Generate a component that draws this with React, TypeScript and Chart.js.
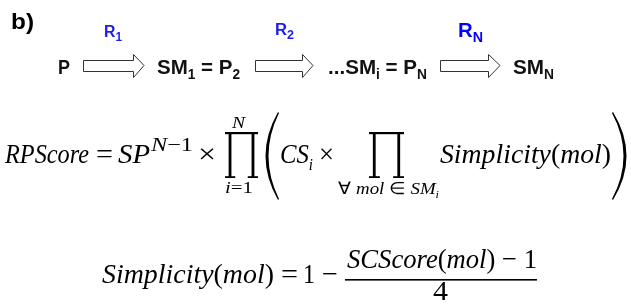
import React, { useEffect, useRef } from "react";
import { Chart, registerables } from "chart.js";

Chart.register(...registerables);

// ---- content (text) ----
type Seg = { t: string; it?: boolean; sub?: boolean; sup?: boolean; s?: number };

const PANEL_LABEL = "b)";
const STEP_NODES: Seg[][] = [
  [{ t: "P" }],
  [{ t: "SM" }, { t: "1", sub: true }, { t: " = P" }, { t: "2", sub: true }],
  [{ t: "...SM" }, { t: "i", sub: true }, { t: " = P" }, { t: "N", sub: true }],
  [{ t: "SM" }, { t: "N", sub: true }],
];
const REACTIONS: Seg[][] = [
  [{ t: "R" }, { t: "1", sub: true }],
  [{ t: "R" }, { t: "2", sub: true }],
  [{ t: "R" }, { t: "N", sub: true }],
];
const RPS_LHS: Seg[] = [{ t: "RPScore", it: true }];
const EQ: Seg[] = [{ t: "=" }];
const SP: Seg[] = [{ t: "SP", it: true }];
const SP_EXP: Seg[] = [{ t: "N", it: true }, { t: "\u22121" }];
const TIMES: Seg[] = [{ t: "\u00d7" }];
const PROD_UPPER: Seg[] = [{ t: "N", it: true }];
const PROD_LOWER: Seg[] = [{ t: "i", it: true }, { t: "=1" }];
const CS_I: Seg[] = [{ t: "CS", it: true }, { t: "i", it: true, sub: true }];
const PROD2_LOWER: Seg[] = [
  { t: "\u2200 " },
  { t: "mol", it: true },
  { t: " \u2208 " },
  { t: "SM", it: true },
  { t: "i", it: true, sub: true },
];
const SIMPLICITY: Seg[] = [
  { t: "Simplicity", it: true },
  { t: "(" },
  { t: "mol", it: true },
  { t: ")" },
];
const ONE: Seg[] = [{ t: "1" }];
const MINUS: Seg[] = [{ t: "\u2212" }];
const NUMERATOR: Seg[] = [
  { t: "SCScore", it: true },
  { t: "(" },
  { t: "mol", it: true },
  { t: ") \u2212 1" },
];
const DENOMINATOR: Seg[] = [{ t: "4" }];

const BLACK = "#000000";
const DARK = "#111111";
const BLUE = "#1c1cf2";
const BLUE_N = "#0000ff";
const SANS = "'Liberation Sans', Arial, sans-serif";
const SERIF = "'Liberation Serif', 'Times New Roman', serif";

function drawRun(
  ctx: CanvasRenderingContext2D,
  segs: Seg[],
  x: number,
  y: number,
  w: number,
  size: number,
  family: string,
  bold: boolean,
  color: string,
  subRatio = 0.65
) {
  const fontFor = (sg: Seg) => {
    const s = sg.s ?? (sg.sub || sg.sup ? Math.round(size * subRatio) : size);
    return `${sg.it ? "italic " : ""}${bold ? "bold " : ""}${s}px ${family}`;
  };
  let total = 0;
  const widths = segs.map((sg) => {
    ctx.font = fontFor(sg);
    const m = ctx.measureText(sg.t).width;
    total += m;
    return m;
  });
  const k = w / total;
  ctx.save();
  ctx.fillStyle = color;
  ctx.textBaseline = "alphabetic";
  ctx.textAlign = "left";
  ctx.translate(x, y);
  ctx.scale(k, 1);
  let cx = 0;
  segs.forEach((sg, i) => {
    ctx.font = fontFor(sg);
    const dy = sg.sub ? size * 0.25 : sg.sup ? -size * 0.45 : 0;
    ctx.fillText(sg.t, cx, dy);
    cx += widths[i];
  });
  ctx.restore();
}

const figurePlugin = {
  id: "figure",
  afterDraw(chart: any) {
    const ctx: CanvasRenderingContext2D = chart.ctx;
    const sx = chart.scales.x;
    const sy = chart.scales.y;
    const X = (v: number) => sx.getPixelForValue(v);
    const Y = (v: number) => sy.getPixelForValue(v);

    ctx.save();
    // panel label
    drawRun(ctx, [{ t: PANEL_LABEL }], X(11), Y(29), 23, 22, SANS, true, BLACK);

    // reaction scheme
    const nodePos = [
      [58, 74, 12],
      [157, 74, 83],
      [328, 74, 99],
      [513, 74, 41],
    ];
    STEP_NODES.forEach((n, i) => {
      const [x, y, w] = nodePos[i];
      drawRun(ctx, n, X(x), Y(y), w, 21, SANS, true, DARK, 0.68);
    });
    const rxPos = [
      [104, 37, 18, 16, BLUE],
      [275, 35, 19, 16, BLUE],
      [458, 37, 25, 20, BLUE_N],
    ];
    REACTIONS.forEach((r, i) => {
      const [x, y, w, s, c] = rxPos[i] as any;
      drawRun(ctx, r, X(x), Y(y), w, s, SANS, true, c, 0.72);
    });
    const arrows = [
      [83, 133, 144],
      [255, 302, 313],
      [440, 488, 500],
    ];
    arrows.forEach(([a, h, b]) => {
      ctx.beginPath();
      ctx.moveTo(X(a) + 0.5, Y(60) + 0.5);
      ctx.lineTo(X(h) + 0.5, Y(60) + 0.5);
      ctx.lineTo(X(h) + 0.5, Y(54) + 0.5);
      ctx.lineTo(X(b), Y(65.5));
      ctx.lineTo(X(h) + 0.5, Y(77) + 0.5);
      ctx.lineTo(X(h) + 0.5, Y(71) + 0.5);
      ctx.lineTo(X(a) + 0.5, Y(71) + 0.5);
      ctx.closePath();
      ctx.fillStyle = "#ffffff";
      ctx.fill();
      ctx.strokeStyle = "#333333";
      ctx.lineWidth = 1;
      ctx.stroke();
    });

    // RPScore formula
    const base = 163;
    const S = 28;
    drawRun(ctx, RPS_LHS, X(5), Y(base), 84, S, SERIF, false, BLACK);
    drawRun(ctx, EQ, X(96), Y(base), 17, S, SERIF, false, BLACK);
    drawRun(ctx, SP, X(118), Y(base), 32, S, SERIF, false, BLACK);
    drawRun(ctx, SP_EXP, X(151), Y(151), 42, 19, SERIF, false, BLACK);
    drawRun(ctx, TIMES, X(198), Y(base), 18, S, SERIF, false, BLACK);
    drawRun(ctx, PROD_UPPER, X(232), Y(128), 13, 16, SERIF, false, BLACK);
    drawRun(ctx, PROD_LOWER, X(225), Y(193), 28, 17, SERIF, false, BLACK);
    drawRun(ctx, CS_I, X(280), Y(base), 33, S, SERIF, false, BLACK, 0.62);
    drawRun(ctx, TIMES, X(319), Y(base), 15, S, SERIF, false, BLACK);
    drawRun(ctx, PROD2_LOWER, X(338), Y(194), 101, 17, SERIF, false, BLACK);
    drawRun(ctx, SIMPLICITY, X(440), Y(base), 171, S, SERIF, false, BLACK);

    // big product symbols
    const prod = (x0: number, x1: number) => {
      ctx.fillStyle = BLACK;
      const top = Y(132);
      const bot = Y(178);
      const w = X(x1) - X(x0);
      ctx.fillRect(X(x0), top, w, 2.2);
      const st = 2.8;
      ctx.fillRect(X(x0) + w * 0.11, top, st, bot - top);
      ctx.fillRect(X(x1) - w * 0.11 - st, top, st, bot - top);
      ctx.fillRect(X(x0), bot - 1.8, w * 0.31, 1.8);
      ctx.fillRect(X(x1) - w * 0.31, bot - 1.8, w * 0.31, 1.8);
    };
    prod(225, 258);
    prod(369, 404);

    // big parentheses
    ctx.fillStyle = BLACK;
    ctx.beginPath();
    ctx.moveTo(X(278), Y(112));
    ctx.quadraticCurveTo(X(253), Y(156), X(278), Y(200));
    ctx.lineTo(X(279), Y(199));
    ctx.quadraticCurveTo(X(258), Y(156), X(279), Y(113));
    ctx.closePath();
    ctx.fill();
    ctx.beginPath();
    ctx.moveTo(X(613), Y(112));
    ctx.quadraticCurveTo(X(640), Y(156), X(613), Y(200));
    ctx.lineTo(X(612), Y(199));
    ctx.quadraticCurveTo(X(635), Y(156), X(612), Y(113));
    ctx.closePath();
    ctx.fill();

    // Simplicity formula
    const b2 = 283;
    drawRun(ctx, SIMPLICITY, X(102), Y(b2), 172, S, SERIF, false, BLACK);
    drawRun(ctx, EQ, X(281), Y(b2), 17, S, SERIF, false, BLACK);
    drawRun(ctx, ONE, X(303), Y(b2), 12, S, SERIF, false, BLACK);
    drawRun(ctx, MINUS, X(322), Y(b2), 16, S, SERIF, false, BLACK);
    drawRun(ctx, NUMERATOR, X(347), Y(268), 190, S, SERIF, false, BLACK);
    ctx.fillStyle = BLACK;
    ctx.fillRect(X(345), Y(279), X(537) - X(345), 1.6);
    drawRun(ctx, DENOMINATOR, X(433), Y(300), 15, S, SERIF, false, BLACK);
    ctx.restore();
  },
};

export default function App() {
  const ref = useRef<HTMLCanvasElement | null>(null);
  useEffect(() => {
    document.body.style.margin = "0";
    document.body.style.background = "#ffffff";
    const canvas = ref.current;
    if (!canvas) return;
    const chart = new Chart(canvas, {
      type: "scatter",
      data: { datasets: [{ data: [] }] },
      options: {
        animation: false,
        responsive: false,
        devicePixelRatio: 1,
        layout: { padding: 0 },
        events: [],
        plugins: { legend: { display: false }, tooltip: { enabled: false } },
        scales: {
          x: { type: "linear", min: 0, max: 631, display: false },
          y: { type: "linear", min: 0, max: 304, reverse: true, display: false },
        },
      },
      plugins: [figurePlugin],
    });
    return () => chart.destroy();
  }, []);
  return (
    <div style={{ width: 631, height: 304, background: "#fff" }}>
      <canvas ref={ref} width={631} height={304} style={{ display: "block" }} />
    </div>
  );
}
